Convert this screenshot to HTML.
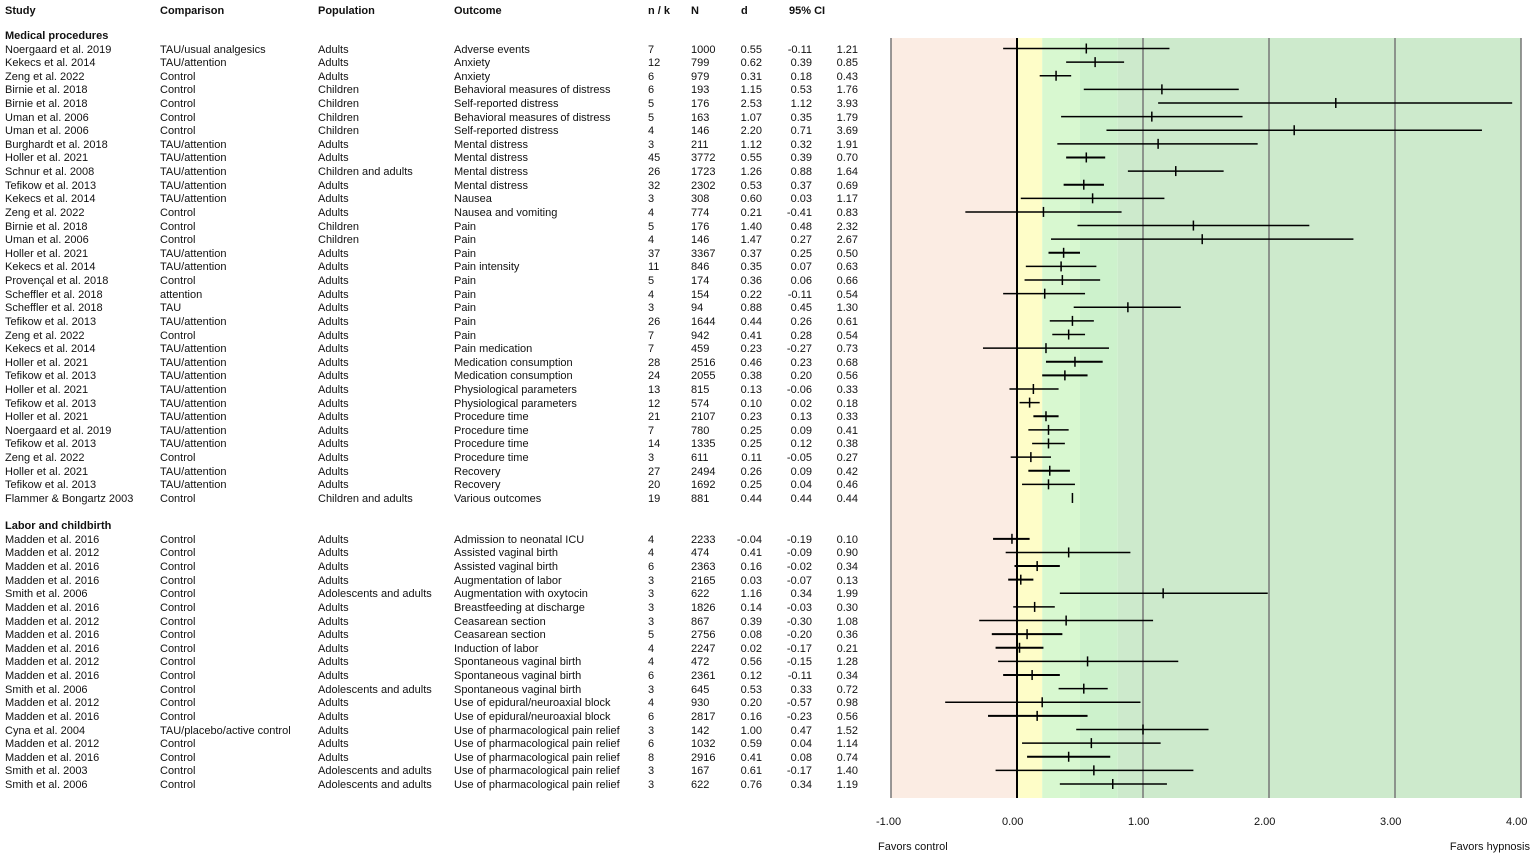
<!DOCTYPE html>
<html><head><meta charset="utf-8">
<style>
body{margin:0;background:#fff;width:1535px;height:856px;overflow:hidden;font-family:"Liberation Sans",Arial,sans-serif;font-size:11px;color:#111}
#wrap{position:relative;width:1535px;height:856px}
.t{position:absolute;white-space:nowrap;line-height:13px}
.b{font-weight:bold}
.r{text-align:right}
svg{position:absolute;left:0;top:0}
</style></head><body>
<div id="wrap">
<svg id="plot" width="1535" height="856"></svg>
</div>
<script>
const studies=["Noergaard et al. 2019","Kekecs et al. 2014","Zeng et al. 2022","Birnie et al. 2018","Birnie et al. 2018","Uman et al. 2006","Uman et al. 2006","Burghardt et al. 2018","Holler et al. 2021","Schnur et al. 2008","Tefikow et al. 2013","Kekecs et al. 2014","Zeng et al. 2022","Birnie et al. 2018","Uman et al. 2006","Holler et al. 2021","Kekecs et al. 2014","Provençal et al. 2018","Scheffler et al. 2018","Scheffler et al. 2018","Tefikow et al. 2013","Zeng et al. 2022","Kekecs et al. 2014","Holler et al. 2021","Tefikow et al. 2013","Holler et al. 2021","Tefikow et al. 2013","Holler et al. 2021","Noergaard et al. 2019","Tefikow et al. 2013","Zeng et al. 2022","Holler et al. 2021","Tefikow et al. 2013","Flammer & Bongartz 2003",
"Madden et al. 2016","Madden et al. 2012","Madden et al. 2016","Madden et al. 2016","Smith et al. 2006","Madden et al. 2016","Madden et al. 2012","Madden et al. 2016","Madden et al. 2016","Madden et al. 2012","Madden et al. 2016","Smith et al. 2006","Madden et al. 2012","Madden et al. 2016","Cyna et al. 2004","Madden et al. 2012","Madden et al. 2016","Smith et al. 2003","Smith et al. 2006"];
const comparisons=["TAU/usual analgesics","TAU/attention","Control","Control","Control","Control","Control","TAU/attention","TAU/attention","TAU/attention","TAU/attention","TAU/attention","Control","Control","Control","TAU/attention","TAU/attention","Control","attention","TAU","TAU/attention","Control","TAU/attention","TAU/attention","TAU/attention","TAU/attention","TAU/attention","TAU/attention","TAU/attention","TAU/attention","Control","TAU/attention","TAU/attention","Control",
"Control","Control","Control","Control","Control","Control","Control","Control","Control","Control","Control","Control","Control","Control","TAU/placebo/active control","Control","Control","Control","Control"];
const populations=["Adults","Adults","Adults","Children","Children","Children","Children","Adults","Adults","Children and adults","Adults","Adults","Adults","Children","Children","Adults","Adults","Adults","Adults","Adults","Adults","Adults","Adults","Adults","Adults","Adults","Adults","Adults","Adults","Adults","Adults","Adults","Adults","Children and adults",
"Adults","Adults","Adults","Adults","Adolescents and adults","Adults","Adults","Adults","Adults","Adults","Adults","Adolescents and adults","Adults","Adults","Adults","Adults","Adults","Adolescents and adults","Adolescents and adults"];
const outcomes=["Adverse events","Anxiety","Anxiety","Behavioral measures of distress","Self-reported distress","Behavioral measures of distress","Self-reported distress","Mental distress","Mental distress","Mental distress","Mental distress","Nausea","Nausea and vomiting","Pain","Pain","Pain","Pain intensity","Pain","Pain","Pain","Pain","Pain","Pain medication","Medication consumption","Medication consumption","Physiological parameters","Physiological parameters","Procedure time","Procedure time","Procedure time","Procedure time","Recovery","Recovery","Various outcomes",
"Admission to neonatal ICU","Assisted vaginal birth","Assisted vaginal birth","Augmentation of labor","Augmentation with oxytocin","Breastfeeding at discharge","Ceasarean section","Ceasarean section","Induction of labor","Spontaneous vaginal birth","Spontaneous vaginal birth","Spontaneous vaginal birth","Use of epidural/neuroaxial block","Use of epidural/neuroaxial block","Use of pharmacological pain relief","Use of pharmacological pain relief","Use of pharmacological pain relief","Use of pharmacological pain relief","Use of pharmacological pain relief"];
const nk=[7,12,6,6,5,5,4,3,45,26,32,3,4,5,4,37,11,5,4,3,26,7,7,28,24,13,12,21,7,14,3,27,20,19,
4,4,6,3,3,3,3,5,4,4,6,3,4,6,3,6,8,3,3];
const Ns=[1000,799,979,193,176,163,146,211,3772,1723,2302,308,774,176,146,3367,846,174,154,94,1644,942,459,2516,2055,815,574,2107,780,1335,611,2494,1692,881,
2233,474,2363,2165,622,1826,867,2756,2247,472,2361,645,930,2817,142,1032,2916,167,622];
const dVals=[0.55,0.62,0.31,1.15,2.53,1.07,2.20,1.12,0.55,1.26,0.53,0.60,0.21,1.40,1.47,0.37,0.35,0.36,0.22,0.88,0.44,0.41,0.23,0.46,0.38,0.13,0.10,0.23,0.25,0.25,0.11,0.26,0.25,0.44,
-0.04,0.41,0.16,0.03,1.16,0.14,0.39,0.08,0.02,0.56,0.12,0.53,0.20,0.16,1.00,0.59,0.41,0.61,0.76];
const loVals=[-0.11,0.39,0.18,0.53,1.12,0.35,0.71,0.32,0.39,0.88,0.37,0.03,-0.41,0.48,0.27,0.25,0.07,0.06,-0.11,0.45,0.26,0.28,-0.27,0.23,0.20,-0.06,0.02,0.13,0.09,0.12,-0.05,0.09,0.04,0.44,
-0.19,-0.09,-0.02,-0.07,0.34,-0.03,-0.30,-0.20,-0.17,-0.15,-0.11,0.33,-0.57,-0.23,0.47,0.04,0.08,-0.17,0.34];
const hiVals=[1.21,0.85,0.43,1.76,3.93,1.79,3.69,1.91,0.70,1.64,0.69,1.17,0.83,2.32,2.67,0.50,0.63,0.66,0.54,1.30,0.61,0.54,0.73,0.68,0.56,0.33,0.18,0.33,0.41,0.38,0.27,0.42,0.46,0.44,
0.10,0.90,0.34,0.13,1.99,0.30,1.08,0.36,0.21,1.28,0.34,0.72,0.98,0.56,1.52,1.14,0.74,1.40,1.19];
const ticks=[-1,0,1,2,3,4];
const tickLabels=["-1.00","0.00","1.00","2.00","3.00","4.00"];
const bands=[-1,0,0.2,0.5,0.8,4];

const NS='http://www.w3.org/2000/svg';
const svg=document.getElementById('plot');
const wrap=document.getElementById('wrap');
const X0=891,X1=1521,XMIN=-1,XMAX=4;
function xs(v){return X0+(v-XMIN)/(XMAX-XMIN)*(X1-X0);}
const ROW0=48.5,STEP=13.62;
function rowY(i){return ROW0+(i<34?i:i+2)*STEP;}
const TOP=38,BOT=798;
function mk(tag,attrs){const e=document.createElementNS(NS,tag);for(const k in attrs)e.setAttribute(k,attrs[k]);svg.appendChild(e);return e;}
function txt(s,x,y,cls){const d=document.createElement('div');d.className='t '+(cls||'');d.textContent=s;d.style.left=x+'px';d.style.top=(y-5)+'px';wrap.appendChild(d);return d;}
function rtxt(s,xr,y){const d=txt(s,0,y,'r');d.style.left='auto';d.style.right=(1535-xr)+'px';return d;}

const bandColors=['#fbece3','#fefdc8','#d8f8d0','#cdf2cc','#cdeacc'];
for(let i=0;i<bands.length-1;i++){
  const r=mk('rect',{x:xs(bands[i]),y:TOP,width:xs(bands[i+1])-xs(bands[i]),height:BOT-TOP,fill:bandColors[i]});
  
  
}
ticks.forEach((t,i)=>{
  const l=mk('line',{x1:xs(t),x2:xs(t),y1:TOP,y2:BOT,stroke:t===0?'#000':'#777','stroke-width':t===0?2:1.5});
  
  
  const tl=txt(tickLabels[i],xs(t)-15,821,'');
  
  
});
for(let i=0;i<dVals.length;i++){
  const y=rowY(i);
  const ci=mk('line',{x1:xs(loVals[i]),x2:xs(hiVals[i]),y1:y,y2:y,stroke:'#000','stroke-width':Ns[i]>2000?2:1.5});
  
  
  const p=mk('line',{x1:xs(dVals[i]),x2:xs(dVals[i]),y1:y-5,y2:y+5,stroke:'#000','stroke-width':1.5});
  
  
  const cells=[[studies[i],5],[comparisons[i],160],[populations[i],318],[outcomes[i],454],[String(nk[i]),648],[String(Ns[i]),691]];
  cells.forEach(c=>{const e=txt(c[0],c[1],y,'');});
  [[dVals[i],762],[loVals[i],812],[hiVals[i],858]].forEach(c=>{const e=rtxt(c[0].toFixed(2),c[1],y);});
}
[["Study",5],["Comparison",160],["Population",318],["Outcome",454],["n / k",648],["N",691],["d",741],["95% CI",789]].forEach(h=>{
  const e=txt(h[0],h[1],10,'b');
  
  
});
const g1=txt("Medical procedures",5,35,'b');


const g2=txt("Labor and childbirth",5,525,'b');


const f1=txt("Favors control",878,846,'');


const f2=rtxt("Favors hypnosis",1530,846);


</script>
</body></html>
